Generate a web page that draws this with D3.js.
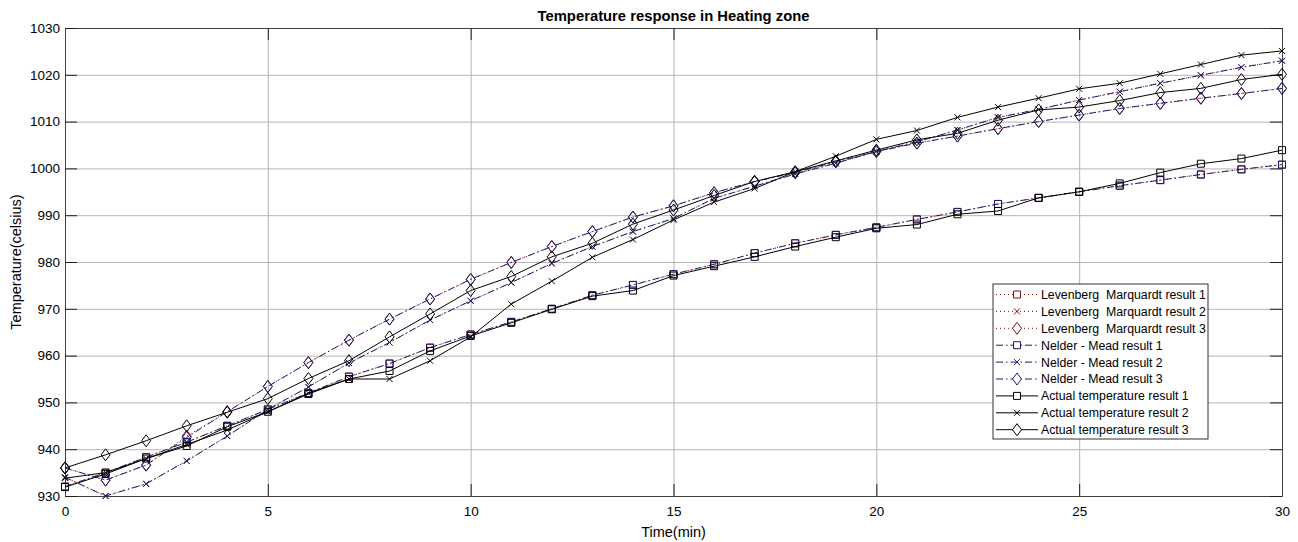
<!DOCTYPE html>
<html>
<head>
<meta charset="utf-8">
<script src="https://cdn.jsdelivr.net/npm/d3@7"></script>
<style>
  html, body { margin: 0; padding: 0; background: #fff; }
  svg text { font-family: "Liberation Sans", Arial, sans-serif; fill: #000; }
</style>
</head>
<body>
<svg id="chart" width="1298" height="542"></svg>
<script>
// Time axis (minutes)
const time = d3.range(0, 31);

// Levenberg–Marquardt fitted responses
const lmResult1 = [932, 935, 938.3, 941.5, 945, 948.5, 952, 955.5, 958.3, 961.7, 964.5, 967.2, 970, 972.9, 975.1, 977.4, 979.5, 981.9, 984, 985.8, 987.4, 989.1, 990.7, 992.4, 993.7, 995, 996.3, 997.5, 998.7, 999.8, 1000.8];
const lmResult2 = [934, 930, 932.6, 937.5, 942.8, 948.5, 953.3, 958.4, 962.8, 967.6, 971.7, 975.6, 979.7, 983.3, 986.5, 989.3, 993.6, 996.2, 998.8, 1001.1, 1003.6, 1005.7, 1008.2, 1010.9, 1012.6, 1014.6, 1016.4, 1018.2, 1019.9, 1021.6, 1023];
const lmResult3 = [936, 933.4, 936.6, 942.8, 948, 953.4, 958.5, 963.3, 967.8, 972.1, 976.3, 979.9, 983.3, 986.5, 989.6, 992, 994.8, 997.2, 999.1, 1001.4, 1003.6, 1005.4, 1006.9, 1008.5, 1010, 1011.4, 1012.8, 1013.9, 1015, 1016, 1017.1];

// Nelder–Mead fitted responses
const nmResult1 = [932, 935, 938.3, 941.5, 945, 948.5, 952, 955.5, 958.3, 961.7, 964.5, 967.2, 970, 972.9, 975.1, 977.4, 979.5, 981.9, 984, 985.8, 987.4, 989.1, 990.7, 992.4, 993.7, 995, 996.3, 997.5, 998.7, 999.8, 1000.8];
const nmResult2 = [934, 930, 932.6, 937.5, 942.8, 948.5, 953.3, 958.4, 962.8, 967.6, 971.7, 975.6, 979.7, 983.3, 986.5, 989.3, 993.6, 996.2, 998.8, 1001.1, 1003.6, 1005.7, 1008.2, 1010.9, 1012.6, 1014.6, 1016.4, 1018.2, 1019.9, 1021.6, 1023];
const nmResult3 = [936, 933.4, 936.6, 942.5, 948, 953.4, 958.5, 963.3, 967.8, 972.1, 976.3, 979.9, 983.3, 986.5, 989.6, 992, 994.8, 997.2, 999.1, 1001.4, 1003.6, 1005.4, 1006.9, 1008.5, 1010, 1011.4, 1012.8, 1013.9, 1015, 1016, 1017.1];

// Measured temperatures
const actualResult1 = [931.9, 934.7, 938, 940.7, 944.8, 948, 951.8, 955, 956.7, 961, 964.2, 967, 969.9, 972.7, 973.9, 977.1, 979.1, 981.1, 983.3, 985.3, 987.2, 988, 990.2, 990.9, 993.7, 995, 996.8, 999.1, 1001, 1002.1, 1003.9];
const actualResult2 = [933.8, 935, 938, 941, 944.1, 948, 952, 955, 955, 958.9, 964, 971, 975.9, 981, 984.8, 989, 992.8, 995.7, 999.3, 1002.6, 1006.2, 1008.1, 1010.9, 1013.1, 1015, 1017, 1018.2, 1020.2, 1022.2, 1024.2, 1025.1];
const actualResult3 = [936, 938.8, 941.8, 945, 947.9, 950.8, 955.1, 958.9, 964, 968.9, 973.9, 976.9, 981.1, 984, 988.1, 991.1, 994.2, 997.2, 999.3, 1001.6, 1003.9, 1006.1, 1007.5, 1010.3, 1012.5, 1013.1, 1014.5, 1016.2, 1017.1, 1019, 1020.1];

const seriesNames = [
  "Levenberg  Marquardt result 1", "Levenberg  Marquardt result 2", "Levenberg  Marquardt result 3",
  "Nelder - Mead result 1", "Nelder - Mead result 2", "Nelder - Mead result 3",
  "Actual temperature result 1", "Actual temperature result 2", "Actual temperature result 3"
];
const seriesValues = [lmResult1, lmResult2, lmResult3, nmResult1, nmResult2, nmResult3, actualResult1, actualResult2, actualResult3];
const seriesMarkers = ["square", "x", "diamond", "square", "x", "diamond", "square", "x", "diamond"];
const seriesGroup = ["lm", "lm", "lm", "nm", "nm", "nm", "act", "act", "act"];

const xTicks = [0, 5, 10, 15, 20, 25, 30];
const yTicks = [930, 940, 950, 960, 970, 980, 990, 1000, 1010, 1020, 1030];

const chartTitle = "Temperature response in Heating zone";
const xTitle = "Time(min)";
const yTitle = "Temperature(celsius)";

// Line style per method
const styles = {
  lm:  { color: "#8a0c0c", dash: "1,3" },
  nm:  { color: "#1a1a70", dash: "7,3,1.5,3" },
  act: { color: "#000000", dash: null }
};

const svg = d3.select("#chart");
const plotLeft = 65, plotRight = 1282, plotTop = 28, plotBottom = 496;
const x = d3.scaleLinear().domain([0, 30]).range([plotLeft, plotRight]);
const y = d3.scaleLinear().domain([930, 1030]).range([plotBottom, plotTop]);

// Grid
const grid = svg.append("g");
grid.append("g").attr("transform", `translate(0,${plotBottom})`)
  .call(d3.axisBottom(x).tickValues(xTicks).tickSize(-(plotBottom - plotTop)).tickFormat(""))
  .call(g => g.select(".domain").remove())
  .call(g => g.selectAll("line").attr("stroke", "#b4b4b4").attr("stroke-width", 1));
grid.append("g").attr("transform", `translate(${plotLeft},0)`)
  .call(d3.axisLeft(y).tickValues(yTicks).tickSize(-(plotRight - plotLeft)).tickFormat(""))
  .call(g => g.select(".domain").remove())
  .call(g => g.selectAll("line").attr("stroke", "#b4b4b4").attr("stroke-width", 1));

// Axes with inward ticks on all four sides
function styleAxis(g) {
  g.select(".domain").attr("stroke", "#404040").attr("stroke-width", 1);
  g.selectAll(".tick line").attr("stroke", "#202020").attr("stroke-width", 1);
  g.selectAll("text").style("font-size", "13.5px").attr("fill", "#000");
}
svg.append("g").attr("transform", `translate(0,${plotBottom})`)
  .call(d3.axisBottom(x).tickValues(xTicks).tickFormat(d3.format("d")).tickSizeInner(-12).tickSizeOuter(0).tickPadding(10))
  .call(styleAxis);
svg.append("g").attr("transform", `translate(0,${plotTop})`)
  .call(d3.axisTop(x).tickValues(xTicks).tickSizeInner(-12).tickSizeOuter(0).tickFormat(""))
  .call(styleAxis);
svg.append("g").attr("transform", `translate(${plotLeft},0)`)
  .call(d3.axisLeft(y).tickValues(yTicks).tickFormat(d3.format("d")).tickSizeInner(-12).tickSizeOuter(0).tickPadding(5))
  .call(styleAxis);
svg.append("g").attr("transform", `translate(${plotRight},0)`)
  .call(d3.axisRight(y).tickValues(yTicks).tickSizeInner(-12).tickSizeOuter(0).tickFormat(""))
  .call(styleAxis);

// Marker shapes, centred on the origin
function markerPath(kind) {
  if (kind === "square") return "M-3.5,-3.5H3.5V3.5H-3.5Z";
  if (kind === "x") return "M-3,-3L3,3M-3,3L3,-3";
  return "M0,-6L4.5,0L0,6L-4.5,0Z";
}

const lineGen = d3.line().x((d, i) => x(time[i])).y(d => y(d));
const plot = svg.append("g");

seriesValues.forEach((vals, k) => {
  const st = styles[seriesGroup[k]];
  const g = plot.append("g");
  g.append("path").datum(vals)
    .attr("d", lineGen)
    .attr("fill", "none")
    .attr("stroke", st.color)
    .attr("stroke-width", 1)
    .attr("stroke-dasharray", st.dash);
  g.selectAll("path.m").data(vals).join("path")
    .attr("class", "m")
    .attr("transform", (d, i) => `translate(${x(time[i])},${y(d)})`)
    .attr("d", markerPath(seriesMarkers[k]))
    .attr("fill", "none")
    .attr("stroke", st.color)
    .attr("stroke-width", 1);
});

// Titles
svg.append("text").attr("x", (plotLeft + plotRight) / 2).attr("y", 21)
  .attr("text-anchor", "middle").style("font-size", "14.8px").attr("font-weight", "bold")
  .text(chartTitle);
svg.append("text").attr("x", (plotLeft + plotRight) / 2).attr("y", 537)
  .attr("text-anchor", "middle").style("font-size", "14.5px")
  .text(xTitle);
svg.append("text").attr("transform", `translate(21,${(plotTop + plotBottom) / 2}) rotate(-90)`)
  .attr("text-anchor", "middle").style("font-size", "14.5px")
  .text(yTitle);

// Legend
const lgX = 993, lgY = 284, lgW = 215, lgH = 155, rowH = 16.9;
const legend = svg.append("g");
legend.append("rect").attr("x", lgX).attr("y", lgY).attr("width", lgW).attr("height", lgH)
  .attr("fill", "#fff").attr("stroke", "#303030").attr("stroke-width", 1);
seriesNames.forEach((name, k) => {
  const st = styles[seriesGroup[k]];
  const cy = lgY + 10.5 + k * rowH;
  legend.append("line").attr("x1", lgX + 3).attr("x2", lgX + 45).attr("y1", cy).attr("y2", cy)
    .attr("stroke", st.color).attr("stroke-width", 1).attr("stroke-dasharray", st.dash);
  legend.append("path").attr("transform", `translate(${lgX + 24},${cy})`)
    .attr("d", markerPath(seriesMarkers[k]))
    .attr("fill", "#fff").attr("stroke", st.color).attr("stroke-width", 1);
  legend.append("text").attr("x", lgX + 48).attr("y", cy + 4.4)
    .style("font-size", "12.3px").style("white-space", "pre")
    .text(name);
});
</script>
</body>
</html>
